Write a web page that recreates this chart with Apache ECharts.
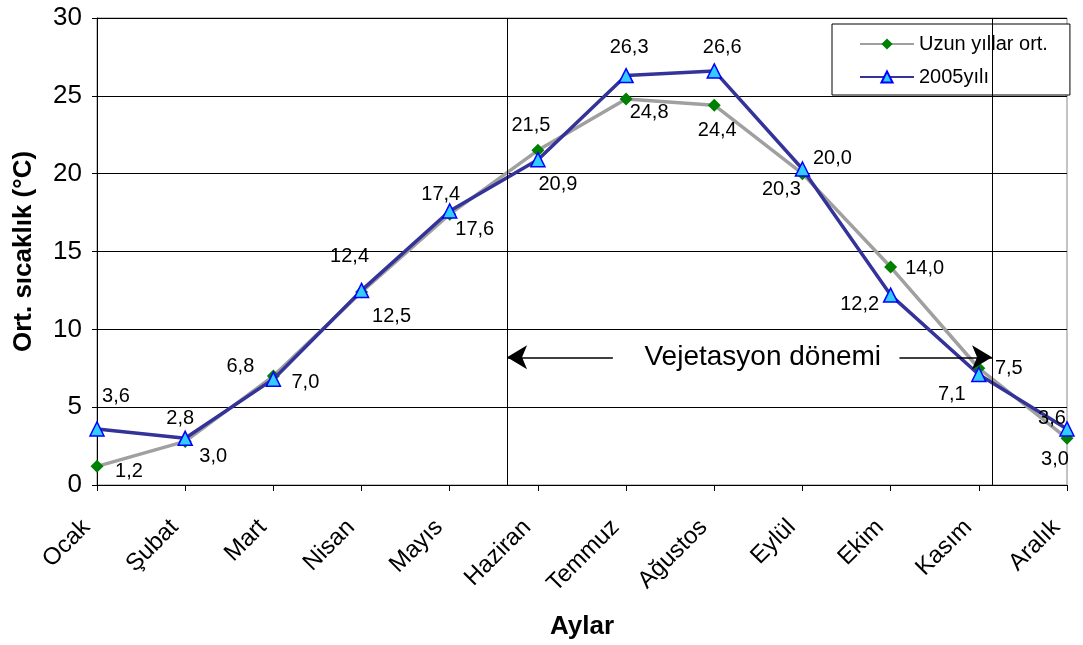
<!DOCTYPE html>
<html>
<head>
<meta charset="utf-8">
<script src="https://cdn.jsdelivr.net/npm/echarts@6/dist/echarts.min.js"></script>
<style>
  html, body { margin: 0; padding: 0; background: #fff; }
  #chart { width: 1083px; height: 645px; }
</style>
</head>
<body>
<div id="chart"></div>
<script>
// veriler
const months = ["Ocak", "Şubat", "Mart", "Nisan", "Mayıs", "Haziran",
    "Temmuz", "Ağustos", "Eylül", "Ekim", "Kasım", "Aralık"];
const longTermAvg = [1.2, 2.8, 7.0, 12.4, 17.4, 21.5, 24.8, 24.4, 20.0, 14.0, 7.5, 3.0];
const year2005 = [3.6, 3.0, 6.8, 12.5, 17.6, 20.9, 26.3, 26.6, 20.3, 12.2, 7.1, 3.6];
const yTicks = [0, 5, 10, 15, 20, 25, 30];

// vejetasyon dönemi sınırları (ay indeksi cinsinden)
const vegStart = 4.65;
const vegEnd = 10.15;
const vegLevel = 8.2;
const vegLabel = "Vejetasyon dönemi";

// etiket kaydırmaları (nokta merkezine göre piksel)
const longTermLabelOffsets = [[32, 5], [-5, -23], [32, 6], [-12, -35], [-9, -20], [-7, -25],
    [23, 14], [3, 25], [30, -15], [34, 1], [30, 0], [-12, 21]];
const yearLabelOffsets = [[19, -32], [28, 18], [-33, -13], [30, 26], [25, 18], [20, 25],
    [3, -28], [8, -23], [-21, 20], [-31, 9], [-27, 20], [-15, -10]];

const fontFamily = "'Liberation Sans', Arial, sans-serif";

function fmt(v) {
    return v.toFixed(1).replace(".", ",");
}

function buildData(values, offsets) {
    return values.map((v, i) => ({
        value: v,
        label: { offset: offsets[i] }
    }));
}

const chart = echarts.init(document.getElementById("chart"));

const pointLabel = {
    show: true,
    position: "inside",
    color: "#000",
    fontSize: 20,
    fontFamily: fontFamily,
    formatter: p => fmt(p.value)
};

chart.setOption({
    animation: false,
    textStyle: { fontFamily: fontFamily },
    grid: {
        left: 97,
        right: 16,
        top: 18,
        bottom: 159,
        show: true,
        borderColor: "#888",
        borderWidth: 1
    },
    legend: {
        data: ["Uzun yıllar ort.", "2005yılı"],
        orient: "vertical",
        left: 832,
        top: 24,
        padding: [10, 22, 8, 27],
        itemWidth: 54,
        itemHeight: 14,
        itemGap: 13,
        backgroundColor: "#fff",
        borderColor: "#000",
        borderWidth: 1,
        textStyle: { fontSize: 20, color: "#000", fontFamily: fontFamily }
    },
    xAxis: [
        {
            type: "category",
            data: months,
            boundaryGap: false,
            name: "Aylar",
            nameLocation: "middle",
            nameGap: 129,
            nameTextStyle: { fontSize: 26, fontWeight: "bold", color: "#000" },
            axisLine: { lineStyle: { color: "#000", width: 1 } },
            axisTick: { show: true, length: 6, alignWithLabel: true, lineStyle: { color: "#000" } },
            axisLabel: { rotate: 45, fontSize: 24, color: "#000", margin: 28, padding: [0, 15, 0, 0], interval: 0 },
            splitLine: { show: false }
        },
        {
            type: "value",
            min: 0,
            max: months.length - 1,
            show: false
        }
    ],
    yAxis: {
        type: "value",
        min: yTicks[0],
        max: yTicks[yTicks.length - 1],
        interval: 5,
        name: "Ort. sıcaklık (°C)",
        nameLocation: "middle",
        nameGap: 60,
        nameTextStyle: { fontSize: 26, fontWeight: "bold", color: "#000" },
        axisLine: { show: true, lineStyle: { color: "#000", width: 1 } },
        axisTick: { show: true, length: 5, lineStyle: { color: "#000" } },
        axisLabel: { fontSize: 26, color: "#000", margin: 15 },
        splitLine: { show: true, lineStyle: { color: "#000", width: 1 } }
    },
    series: [
        {
            name: "Uzun yıllar ort.",
            type: "line",
            data: buildData(longTermAvg, longTermLabelOffsets),
            lineStyle: { color: "#a0a0a0", width: 3.5 },
            itemStyle: { color: "#008000" },
            symbol: "diamond",
            symbolSize: 13,
            label: pointLabel,
            z: 3
        },
        {
            name: "2005yılı",
            type: "line",
            data: buildData(year2005, yearLabelOffsets),
            lineStyle: { color: "#333399", width: 3.5 },
            itemStyle: { color: "#33ccff", borderColor: "#0000ff", borderWidth: 1.5 },
            symbol: "triangle",
            symbolSize: 14,
            label: pointLabel,
            z: 4
        },
        {
            name: "sınırlar",
            type: "line",
            xAxisIndex: 1,
            data: [],
            markLine: {
                silent: true,
                symbol: "none",
                label: { show: false },
                lineStyle: { color: "#000", width: 1, type: "solid" },
                data: [{ xAxis: vegStart }, { xAxis: vegEnd }]
            },
            z: 2
        },
        {
            name: "oklar",
            type: "line",
            xAxisIndex: 1,
            data: [],
            markLine: {
                silent: true,
                symbol: ["none", "arrow"],
                symbolSize: [18, 20],
                label: { show: false },
                lineStyle: { color: "#000", width: 1.5, type: "solid" },
                data: [
                    [{ coord: [5.85, vegLevel] }, { coord: [vegStart, vegLevel] }],
                    [{ coord: [9.1, vegLevel] }, { coord: [vegEnd, vegLevel] }]
                ]
            },
            z: 2
        },
        {
            name: "yazı",
            type: "scatter",
            xAxisIndex: 1,
            symbolSize: 0,
            itemStyle: { opacity: 1 },
            data: [[7.55, vegLevel]],
            label: {
                show: true,
                position: "inside",
                formatter: vegLabel,
                fontSize: 28,
                color: "#000",
                opacity: 1,
                fontFamily: fontFamily
            },
            silent: true
        }
    ]
});
</script>
</body>
</html>
